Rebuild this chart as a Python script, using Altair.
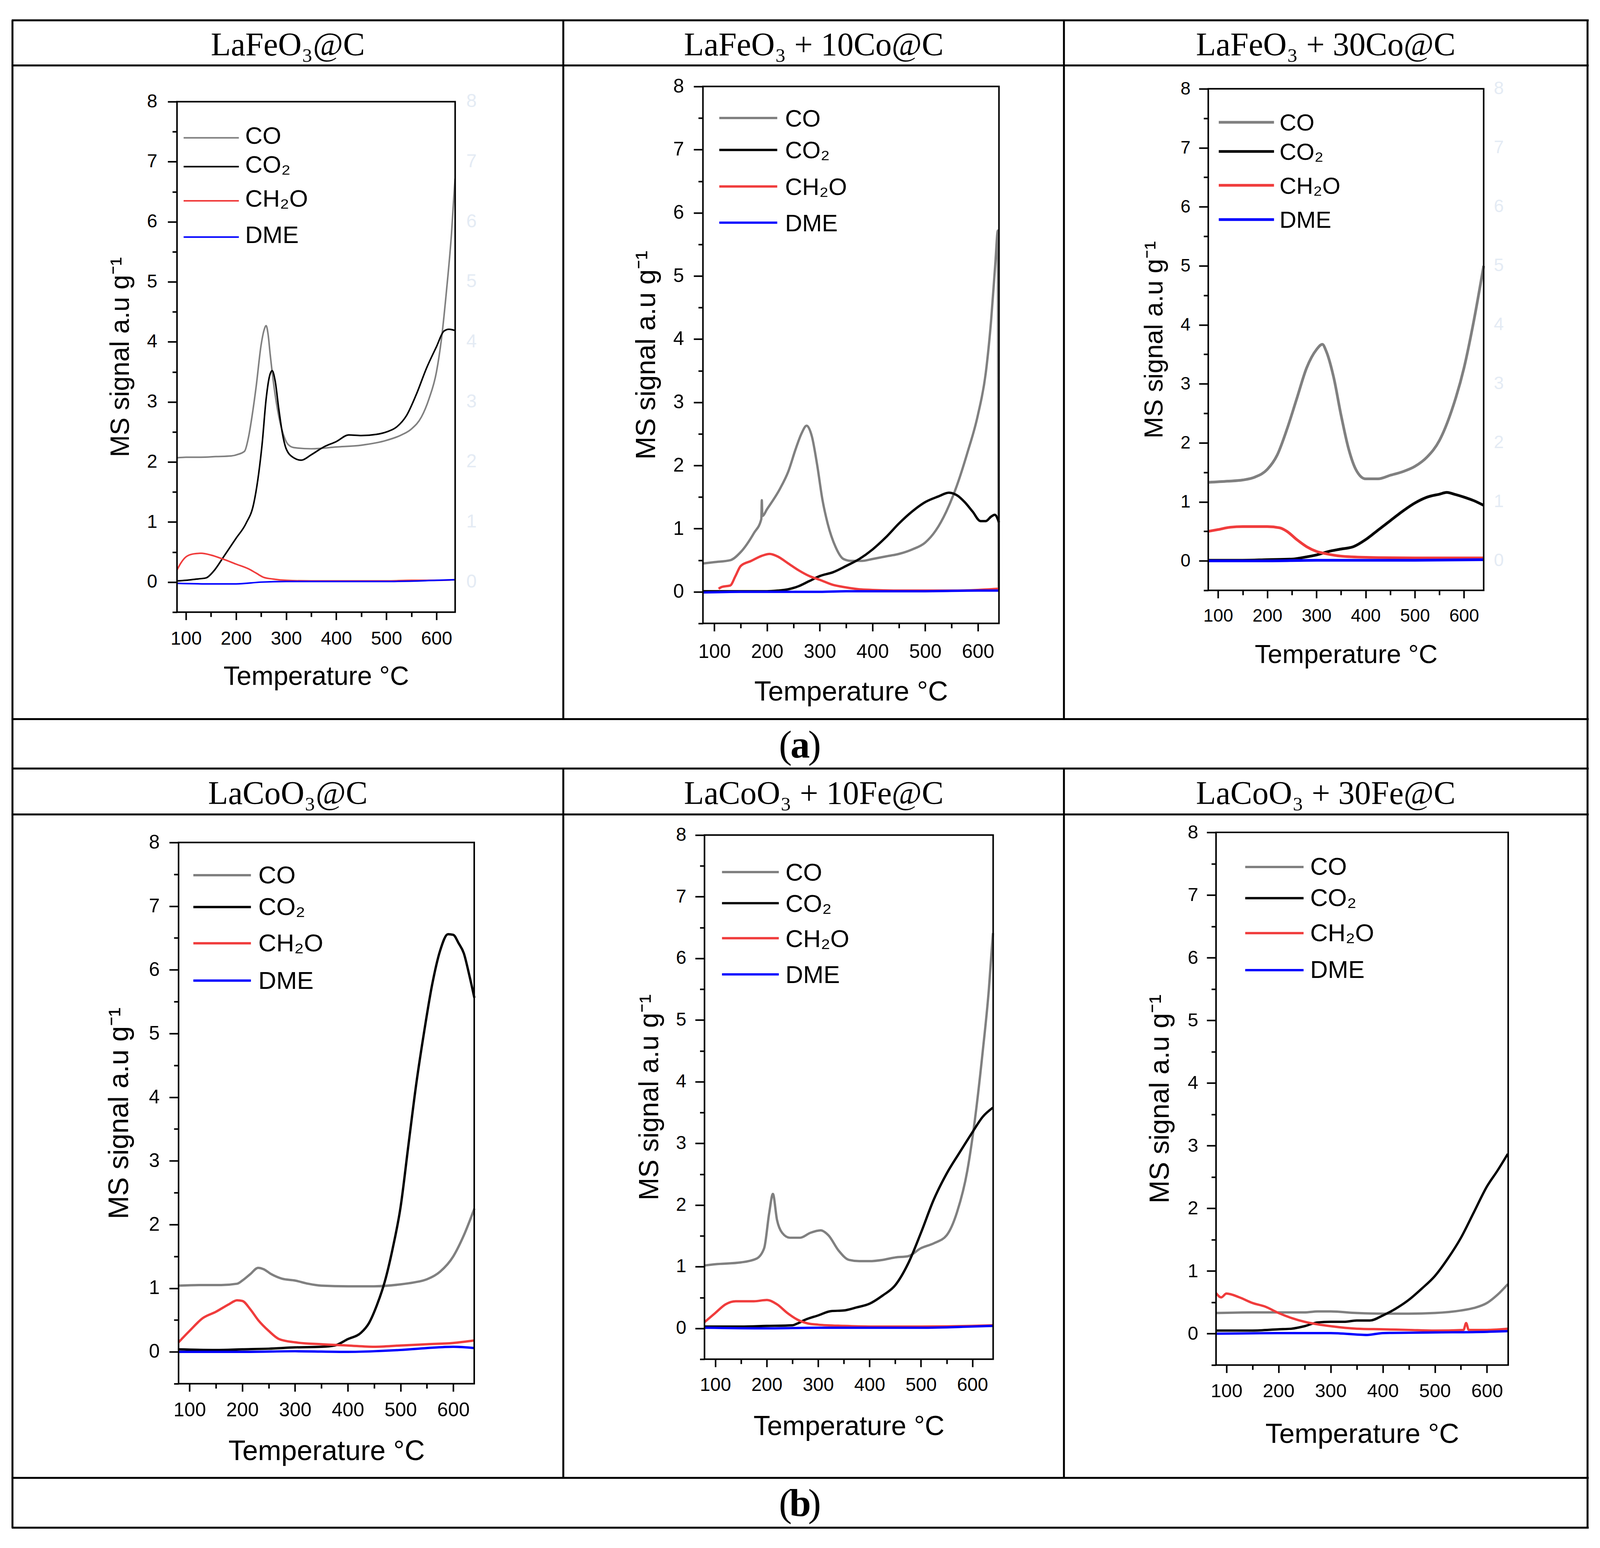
import altair as alt
import pandas as pd

# ---------------------------------------------------------------- data
SERIES = ["CO", "CO₂", "CH₂O", "DME"]
COLORS = ["#808080", "#000000", "#f03c3c", "#0000ff"]

PANEL_TITLES = ["LaFeO₃@C", "LaFeO₃ + 10Co@C", "LaFeO₃ + 30Co@C",
                "LaCoO₃@C", "LaCoO₃ + 10Fe@C", "LaCoO₃ + 30Fe@C"]
CAPTION_LETTERS = ["a", "b"]
X_TITLE = "Temperature °C"
Y_TITLE = "MS signal a.u g⁻¹"
X_MAJOR = [100, 200, 300, 400, 500, 600]
X_MINOR = [150, 250, 350, 450, 550]
Y_MAJOR = [0, 1, 2, 3, 4, 5, 6, 7, 8]
Y_MINOR = [-0.5, 0.5, 1.5, 2.5, 3.5, 4.5, 5.5, 6.5, 7.5]

# (temperature °C, MS signal)
A1_CO = [(82, 2.07), (100, 2.08), (130, 2.08), (160, 2.09), (190, 2.1), (205, 2.13), (217, 2.18),
         (225, 2.42), (232, 2.77), (240, 3.25), (250, 3.95), (256, 4.2), (260, 4.27), (264, 4.12),
         (268, 3.8), (275, 3.3), (285, 2.77), (296, 2.42), (303, 2.3), (315, 2.24), (350, 2.22),
         (400, 2.25), (450, 2.28), (500, 2.36), (530, 2.45), (550, 2.55), (570, 2.75), (585, 3.05),
         (600, 3.5), (610, 4.05), (620, 4.85), (630, 5.8), (637, 6.72)]
A1_CO2 = [(82, 0.02), (100, 0.03), (120, 0.05), (140, 0.07), (155, 0.18), (175, 0.42), (200, 0.73),
          (220, 0.98), (235, 1.3), (245, 1.8), (252, 2.3), (260, 3.05), (266, 3.4), (272, 3.52),
          (278, 3.35), (285, 2.9), (292, 2.5), (300, 2.22), (315, 2.07), (330, 2.03), (350, 2.12),
          (375, 2.25), (400, 2.34), (425, 2.45), (450, 2.44), (480, 2.46), (500, 2.5), (520, 2.58),
          (540, 2.77), (560, 3.13), (580, 3.56), (600, 3.92), (615, 4.18), (625, 4.21), (637, 4.19)]
A1_CH2O = [(82, 0.2), (90, 0.32), (100, 0.42), (115, 0.47), (130, 0.48), (150, 0.45), (175, 0.38),
           (200, 0.3), (225, 0.22), (240, 0.15), (255, 0.08), (275, 0.05), (300, 0.03), (350, 0.02),
           (400, 0.02), (450, 0.02), (500, 0.02), (550, 0.03), (600, 0.03), (637, 0.04)]
A1_DME = [(82, -0.02), (150, -0.03), (200, -0.03), (250, 0.0), (300, 0.01), (400, 0.01),
          (500, 0.01), (600, 0.03), (637, 0.04)]

A2_CO = [(79, 0.45), (100, 0.47), (130, 0.5), (150, 0.63), (175, 0.93), (189, 1.15), (190, 1.45),
         (191, 1.2), (200, 1.31), (225, 1.64), (240, 1.9), (255, 2.28), (265, 2.5), (275, 2.63),
         (285, 2.46), (295, 2.01), (305, 1.46), (315, 1.08), (330, 0.71), (345, 0.52), (360, 0.49),
         (380, 0.49), (400, 0.52), (425, 0.56), (450, 0.6), (475, 0.67), (500, 0.78), (520, 0.97),
         (540, 1.27), (560, 1.68), (580, 2.2), (600, 2.8), (615, 3.47), (625, 4.29), (633, 5.19),
         (638, 5.72), (639.5, 0.03)]
A2_CO2 = [(79, 0.01), (150, 0.01), (200, 0.01), (220, 0.02), (240, 0.04), (260, 0.09), (280, 0.17),
          (300, 0.25), (325, 0.31), (350, 0.41), (375, 0.52), (400, 0.67), (425, 0.86), (450, 1.08),
          (475, 1.27), (500, 1.42), (525, 1.51), (545, 1.57), (560, 1.53), (575, 1.42), (590, 1.27),
          (605, 1.12), (615, 1.12), (625, 1.19), (632, 1.22), (640, 1.1)]
A2_CH2O = [(108, 0.05), (115, 0.08), (130, 0.1), (140, 0.25), (150, 0.41), (170, 0.49), (190, 0.57),
           (205, 0.6), (220, 0.56), (240, 0.45), (260, 0.34), (280, 0.25), (300, 0.19), (325, 0.11),
           (350, 0.07), (375, 0.04), (400, 0.03), (450, 0.02), (500, 0.02), (550, 0.02), (600, 0.03),
           (640, 0.05)]
A2_DME = [(79, -0.01), (150, 0.0), (250, 0.0), (300, 0.0), (350, 0.01), (400, 0.01), (500, 0.01),
          (600, 0.02), (640, 0.02)]

A3_CO = [(80, 1.33), (120, 1.35), (150, 1.37), (175, 1.42), (200, 1.55), (220, 1.79), (240, 2.23),
         (260, 2.75), (280, 3.27), (300, 3.58), (312, 3.67), (320, 3.55), (335, 3.11), (350, 2.47),
         (365, 1.91), (380, 1.55), (400, 1.39), (425, 1.39), (450, 1.45), (475, 1.51), (500, 1.6),
         (525, 1.76), (550, 2.04), (575, 2.55), (600, 3.27), (620, 4.07), (640, 5.0)]
A3_CO2 = [(80, 0.01), (150, 0.01), (200, 0.02), (250, 0.03), (275, 0.06), (300, 0.1), (325, 0.16),
          (350, 0.2), (375, 0.24), (400, 0.36), (425, 0.52), (450, 0.68), (475, 0.84), (500, 0.98),
          (525, 1.08), (550, 1.13), (565, 1.16), (580, 1.13), (600, 1.08), (620, 1.02), (640, 0.94)]
A3_CH2O = [(80, 0.5), (100, 0.53), (125, 0.57), (150, 0.58), (175, 0.58), (200, 0.58), (225, 0.56),
           (240, 0.5), (260, 0.36), (280, 0.24), (300, 0.16), (320, 0.12), (350, 0.08), (400, 0.06),
           (500, 0.05), (600, 0.05), (640, 0.05)]
A3_DME = [(80, 0.0), (200, 0.0), (300, 0.01), (400, 0.01), (500, 0.01), (640, 0.02)]

B1_CO = [(79, 1.04), (120, 1.05), (160, 1.05), (190, 1.07), (200, 1.12), (215, 1.22), (230, 1.32),
         (240, 1.3), (255, 1.22), (275, 1.15), (300, 1.12), (325, 1.07), (350, 1.04), (400, 1.03),
         (450, 1.03), (500, 1.06), (525, 1.09), (550, 1.14), (575, 1.26), (600, 1.5), (620, 1.83),
         (640, 2.25)]
B1_CO2 = [(79, 0.04), (150, 0.03), (200, 0.04), (250, 0.05), (300, 0.07), (350, 0.08), (375, 0.1),
          (400, 0.2), (425, 0.3), (440, 0.45), (455, 0.73), (470, 1.1), (485, 1.62), (500, 2.27),
          (515, 3.25), (530, 4.22), (545, 5.04), (560, 5.77), (575, 6.3), (590, 6.56), (600, 6.55),
          (610, 6.42), (620, 6.26), (630, 5.93), (640, 5.56)]
B1_CH2O = [(79, 0.15), (100, 0.33), (125, 0.53), (150, 0.63), (175, 0.75), (190, 0.81), (200, 0.8),
           (215, 0.67), (230, 0.5), (250, 0.33), (270, 0.2), (300, 0.15), (350, 0.12), (400, 0.1),
           (450, 0.08), (500, 0.1), (550, 0.12), (600, 0.14), (640, 0.18)]
B1_DME = [(79, 0.0), (200, 0.0), (300, 0.01), (400, 0.0), (450, 0.01), (500, 0.03), (550, 0.06),
          (600, 0.08), (640, 0.06)]

B2_CO = [(79, 1.02), (100, 1.04), (150, 1.07), (180, 1.13), (195, 1.3), (205, 1.88), (212, 2.18),
         (220, 1.76), (230, 1.55), (245, 1.47), (265, 1.47), (285, 1.55), (305, 1.59), (320, 1.51),
         (340, 1.26), (360, 1.11), (380, 1.09), (400, 1.09), (425, 1.11), (450, 1.15), (475, 1.17),
         (500, 1.3), (525, 1.38), (550, 1.51), (570, 1.88), (590, 2.55), (605, 3.39), (620, 4.48),
         (632, 5.49), (640, 6.41)]
B2_CO2 = [(79, 0.03), (150, 0.03), (200, 0.04), (250, 0.05), (260, 0.08), (275, 0.14), (300, 0.21),
          (325, 0.28), (350, 0.29), (375, 0.34), (400, 0.4), (425, 0.53), (450, 0.7), (475, 1.05),
          (500, 1.55), (525, 2.09), (550, 2.51), (575, 2.85), (600, 3.18), (620, 3.43), (640, 3.58)]
B2_CH2O = [(79, 0.1), (100, 0.25), (120, 0.39), (140, 0.44), (175, 0.44), (200, 0.46), (220, 0.39),
           (240, 0.25), (260, 0.14), (280, 0.08), (300, 0.06), (350, 0.04), (400, 0.03), (500, 0.03),
           (600, 0.04), (640, 0.05)]
B2_DME = [(79, 0.01), (200, 0.0), (300, 0.01), (400, 0.01), (500, 0.01), (600, 0.03), (640, 0.04)]

B3_CO = [(80, 0.33), (150, 0.34), (250, 0.34), (275, 0.355), (300, 0.355), (350, 0.33), (400, 0.32),
         (450, 0.32), (500, 0.33), (550, 0.37), (575, 0.41), (600, 0.49), (620, 0.62), (640, 0.79)]
B3_CO2 = [(80, 0.05), (150, 0.05), (200, 0.07), (225, 0.08), (250, 0.12), (275, 0.18), (300, 0.19),
          (325, 0.19), (350, 0.21), (375, 0.21), (400, 0.29), (425, 0.4), (450, 0.54), (475, 0.72),
          (500, 0.92), (525, 1.2), (550, 1.53), (575, 1.94), (600, 2.35), (620, 2.6), (640, 2.87)]
B3_CH2O = [(80, 0.65), (90, 0.58), (100, 0.64), (125, 0.58), (150, 0.49), (175, 0.43), (200, 0.33),
           (225, 0.25), (250, 0.19), (275, 0.15), (300, 0.12), (350, 0.08), (400, 0.07), (450, 0.06),
           (500, 0.05), (555, 0.06), (560, 0.17), (565, 0.06), (600, 0.06), (640, 0.08)]
B3_DME = [(80, 0.0), (200, 0.01), (300, 0.01), (370, -0.02), (400, 0.01), (500, 0.02), (600, 0.03),
          (640, 0.04)]

PANEL_DATA = [
    [A1_CO, A1_CO2, A1_CH2O, A1_DME],
    [A2_CO, A2_CO2, A2_CH2O, A2_DME],
    [A3_CO, A3_CO2, A3_CH2O, A3_DME],
    [B1_CO, B1_CO2, B1_CH2O, B1_DME],
    [B2_CO, B2_CO2, B2_CH2O, B2_DME],
    [B3_CO, B3_CO2, B3_CH2O, B3_DME],
]
X_DOMAINS = [(82.1, 637.3), (78.3, 640.0), (80.0, 640.0), (79.1, 639.7), (79.0, 640.4), (80.1, 640.7)]
Y_DOMAIN = (-0.5, 8)

# ---------------------------------------------------------------- layout (image pixels)
W, H = 4097, 3946
MX, MY = 8, 16  # image px -> view px offsets

FRAMES = [(455, 1170, 261, 1573), (1807, 2568, 222, 1602), (3106, 3814, 228, 1517),
          (459, 1219, 2165, 3556), (1811, 2553, 2146, 3493), (3126, 3877, 2139, 3508)]
LINE_W = [4, 6, 7, 6, 6, 6]
TICK_FS = [48, 50, 46, 50, 48, 49]
TITLE_FS = [68, 71, 67, 72, 70, 71]
X_GAP = [49, 52, 47, 47, 47, 47]       # axis line -> top of x tick label glyphs
Y_GAP = [51, 49, 46, 49, 47, 46]       # axis line -> right edge of y tick labels
X_TITLE_DY = [187, 198, 186, 196, 195, 200]
Y_TITLE_DX = [-124, -124, -118, -130, -120, -122]
# faint ghost tick labels to the right of some panels (x centre in image px, or None)
GHOST_X = [1212, None, 3853, None, None, None]
GHOST_COLOR = "#e4ebf4"
# legend: line start x, line length, label gap, font size, label raise, row line y's
LEGENDS = [(472, 142, 16, 62, 7, [354, 428, 516, 609]),
           (1849, 149, 20, 61, 0, [303, 385, 479, 572]),
           (3133, 142, 14, 60, 0, [314, 389, 476, 564]),
           (497, 148, 19, 64, 2, [2249, 2331, 2424, 2520]),
           (1856, 146, 17, 63, 0, [2241, 2321, 2411, 2504]),
           (3201, 150, 17, 63, 2, [2228, 2308, 2398, 2493])]

GRID_LINES = [  # x1, y1, x2, y2 (table borders)
    (30, 52, 4084, 52), (30, 168, 4084, 168), (30, 1848, 4084, 1848), (30, 1975, 4084, 1975),
    (30, 2093, 4084, 2093), (30, 3798, 4084, 3798), (30, 3926, 4084, 3926),
    (32, 52, 32, 3926), (4081, 52, 4081, 3926),
    (1448, 52, 1448, 1848), (2735, 52, 2735, 1848),
    (1448, 1975, 1448, 3798), (2735, 1975, 2735, 3798),
]
HEADER_X = [740, 2092, 3408]
HEADER_BASE = [142, 2066]
CAPTION_BASE = [1947, 3896]
CAPTION_X = 2056
TICK_MAJOR, TICK_MINOR = 24, 12


def px(v):
    return alt.X(v, scale=None, axis=None)


def py(v):
    return alt.Y(v, scale=None, axis=None)


def panel(i):
    L, R, T, B = FRAMES[i]
    rows = []
    for name, series in zip(SERIES, PANEL_DATA[i]):
        for t, v in series:
            rows.append({"T": t, "v": v, "s": name})
    df = pd.DataFrame(rows)

    def xs():
        return alt.Scale(domain=list(X_DOMAINS[i]), range=[L - MX, R - MX], nice=False, zero=False)

    def ys():
        return alt.Scale(domain=list(Y_DOMAIN), range=[B - MY, T - MY], nice=False, zero=False)

    def cs():
        return alt.Scale(domain=SERIES, range=COLORS)

    common = dict(grid=False, domain=False, tickColor="black", tickWidth=4)
    font = dict(labelFont="Liberation Sans", labelFontSize=TICK_FS[i], labelColor="black",
                titleFont="Liberation Sans", titleFontSize=TITLE_FS[i], titleFontWeight="normal",
                titleColor="black", labelOverlap=False, labelFlush=False, labelBound=False)
    x_major = alt.Axis(orient="bottom", offset=(B - MY) - H, values=X_MAJOR, tickSize=TICK_MAJOR - 4,
                       labelPadding=X_GAP[i] - (TICK_MAJOR - 4) - 0.075 * TICK_FS[i],
                       titleY=X_TITLE_DY[i], titleBaseline="alphabetic", **common, **font)
    y_major = alt.Axis(orient="left", offset=-(L - MX), values=Y_MAJOR, format="d", tickSize=TICK_MAJOR,
                       labelPadding=Y_GAP[i] - TICK_MAJOR,
                       titleX=Y_TITLE_DX[i], titleBaseline="alphabetic", **common, **font)
    x_minor = alt.Axis(orient="bottom", offset=(B - MY) - H, values=X_MINOR, tickSize=TICK_MINOR,
                       labels=False, title=None, **common)
    y_minor = alt.Axis(orient="left", offset=-(L - MX), values=Y_MINOR, tickSize=TICK_MINOR,
                       labels=False, title=None, **common)

    lines = alt.Chart(df).mark_line(interpolate="monotone", strokeWidth=LINE_W[i]).encode(
        x=alt.X("T:Q", scale=xs(), axis=x_major, title=X_TITLE),
        y=alt.Y("v:Q", scale=ys(), axis=y_major, title=Y_TITLE),
        color=alt.Color("s:N", scale=cs(), legend=None),
    )
    frame = alt.Chart(pd.DataFrame({"k": [0]})).mark_rect(
        fillOpacity=0, stroke="black", strokeWidth=4).encode(
        x=alt.XDatum(X_DOMAINS[i][0], type="quantitative", scale=xs(), axis=x_minor),
        x2=alt.X2Datum(X_DOMAINS[i][1]),
        y=alt.YDatum(Y_DOMAIN[0], type="quantitative", scale=ys(), axis=y_minor),
        y2=alt.Y2Datum(Y_DOMAIN[1]),
    )

    # legend drawn in the plot, as in the original figure
    lx, llen, loff, lfs, raise_, ys_rows = LEGENDS[i]
    leg_df = pd.DataFrame([{"s": s, "x": lx - MX, "x2": lx + llen - MX, "y": yy - MY,
                            "tx": lx + llen + loff - MX, "ty": yy - MY - raise_ + 0.358 * lfs}
                           for s, yy in zip(SERIES, ys_rows)])
    leg_lines = alt.Chart(leg_df).mark_rule(strokeWidth=LINE_W[i]).encode(
        x=px("x:Q"), x2="x2:Q", y=py("y:Q"), color=alt.Color("s:N", scale=cs(), legend=None))
    leg_text = alt.Chart(leg_df).mark_text(
        align="left", baseline="alphabetic", font="Liberation Sans", fontSize=lfs, color="black").encode(
        x=px("tx:Q"), y=py("ty:Q"), text="s:N")
    out = [lines, frame, leg_lines, leg_text]

    if GHOST_X[i] is not None:
        ghost = alt.Chart(pd.DataFrame({"v": Y_MAJOR})).mark_text(
            font="Liberation Sans", fontSize=TICK_FS[i], color=GHOST_COLOR, align="center",
            baseline="middle").encode(
            y=alt.Y("v:Q", scale=ys(), axis=None), x=alt.value(GHOST_X[i] - MX), text="v:Q")
        out.append(ghost)
    return out


# ---------------------------------------------------------------- decorations
grid_df = pd.DataFrame([{"x": a - MX, "y": b - MY, "x2": c - MX, "y2": d - MY} for a, b, c, d in GRID_LINES])
grid = alt.Chart(grid_df).mark_rule(color="black", strokeWidth=5).encode(
    x=px("x:Q"), y=py("y:Q"), x2="x2:Q", y2="y2:Q")

head_df = pd.DataFrame([{"t": PANEL_TITLES[k], "x": HEADER_X[k % 3] - MX, "y": HEADER_BASE[k // 3] - MY}
                        for k in range(6)])
heads = alt.Chart(head_df).mark_text(font="Liberation Serif", fontSize=84, align="center",
                                     baseline="alphabetic", color="black").encode(
    x=px("x:Q"), y=py("y:Q"), text="t:N")

paren_rows, letter_rows = [], []
for k, letter in enumerate(CAPTION_LETTERS):
    yb = CAPTION_BASE[k] - MY
    paren_rows.append({"t": "(", "x": CAPTION_X - 37 - MX, "y": yb})
    paren_rows.append({"t": ")", "x": CAPTION_X + 38 - MX, "y": yb})
    letter_rows.append({"t": letter, "x": CAPTION_X + 1 - MX, "y": yb})
parens = alt.Chart(pd.DataFrame(paren_rows)).mark_text(
    font="Liberation Serif", fontSize=100, align="center", baseline="alphabetic", color="black").encode(
    x=px("x:Q"), y=py("y:Q"), text="t:N")
letters = alt.Chart(pd.DataFrame(letter_rows)).mark_text(
    font="Liberation Serif", fontSize=100, fontWeight="bold", align="center", baseline="alphabetic",
    color="black").encode(
    x=px("x:Q"), y=py("y:Q"), text="t:N")

panel_layers = []
for i in range(6):
    panel_layers.extend(panel(i))

chart = alt.layer(grid, heads, parens, letters, *panel_layers).resolve_scale(
    x="independent", y="independent", color="independent"
).properties(
    width=W, height=H, padding=0, autosize=alt.AutoSizeParams(type="none"), background="white"
).configure_view(stroke=None)

chart.save("out.html", embed_options={"renderer": "svg", "actions": False})
